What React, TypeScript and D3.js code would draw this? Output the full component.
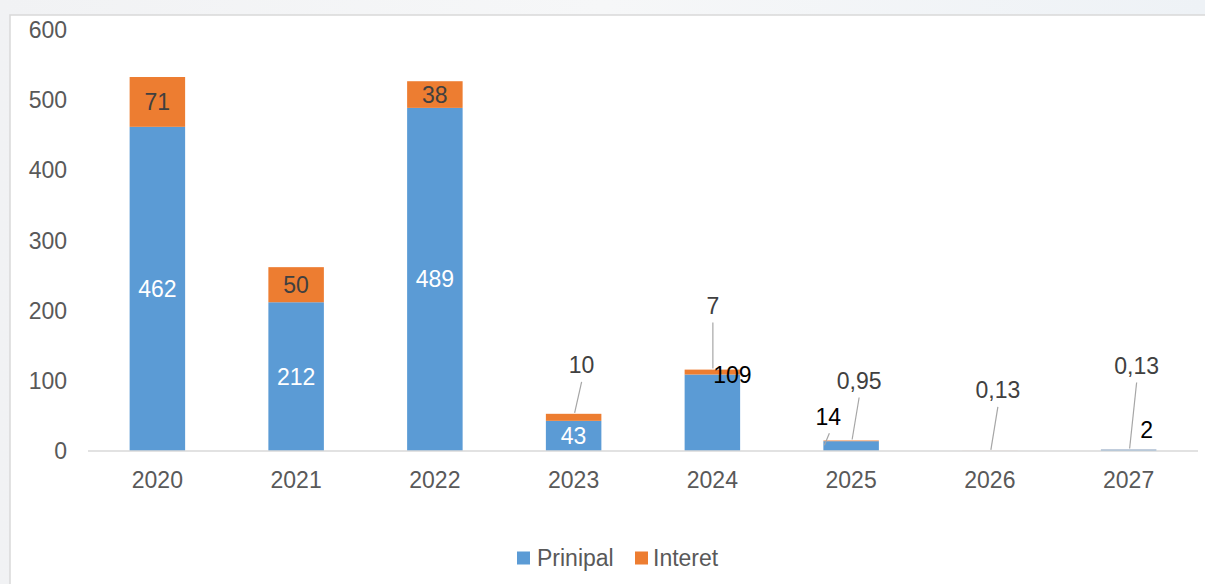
import React from "react";
import * as d3 from "d3";

const years = ["2020", "2021", "2022", "2023", "2024", "2025", "2026", "2027"];
const principal = [462, 212, 489, 43, 109, 14, 0, 2];
const interest = [71, 50, 38, 10, 7, 0.95, 0.13, 0.13];
const principalLabels = ["462", "212", "489", "43", "109", "14", "", "2"];
const interestLabels = ["71", "50", "38", "10", "7", "0,95", "0,13", "0,13"];
const yTicks = [0, 100, 200, 300, 400, 500, 600];
const seriesNames = ["Prinipal", "Interet"];

// label placement styles: "in" = inside segment, "callout" = with leader line, "side" = beside top
const principalPlacement = ["in", "in", "in", "in", "side", "leftcall", "none", "above"];
const interestPlacement = ["in", "in", "in", "callout", "callout", "callout", "callout", "callout"];
const interestCalloutRise = [0, 0, 0, 49, 64, 60, 61, 84];

const W = 1205;
const H = 584;
const BLUE = "#5B9BD5";
const ORANGE = "#ED7D31";
const FONT = "'Liberation Sans', Arial, sans-serif";
const FS = 23;

export default function App() {
  const x = d3.scaleBand<string>().domain(years).range([88, 1198]).paddingInner(0.6).paddingOuter(0.3);
  const y = d3.scaleLinear().domain([0, 600]).range([451, 30]);
  const bw = x.bandwidth();

  return (
    <svg width={W} height={H} style={{ position: "absolute", left: 0, top: 0 }} fontFamily={FONT}>
      <defs>
        <linearGradient id="bg" x1="0" x2="1" y1="0" y2="0">
          <stop offset="0" stopColor="#f1f2f4" />
          <stop offset="0.5" stopColor="#f6f7f8" />
          <stop offset="1" stopColor="#eef2f6" />
        </linearGradient>
      </defs>
      <rect x={0} y={0} width={W} height={H} fill="url(#bg)" />
      <rect x={10} y={15} width={W + 10} height={H + 10} fill="#ffffff" stroke="#d9d9d9" strokeWidth={1.5} />

      {yTicks.map((t) => (
        <text key={t} x={67} y={y(t)} textAnchor="end" dominantBaseline="central" fontSize={FS} fill="#595959">
          {t}
        </text>
      ))}

      {years.map((yr) => (
        <text key={"x" + yr} x={x(yr)! + bw / 2} y={480} textAnchor="middle" dominantBaseline="central" fontSize={FS} fill="#595959">
          {yr}
        </text>
      ))}

      {years.map((yr, i) => {
        const p0 = y(0);
        const p1 = y(principal[i]);
        const i1 = y(principal[i] + interest[i]);
        return (
          <g key={yr}>
            {principal[i] > 0 && <rect x={x(yr)} y={p1} width={bw} height={p0 - p1} fill={BLUE} />}
            <rect x={x(yr)} y={i1} width={bw} height={p1 - i1} fill={ORANGE} />
          </g>
        );
      })}

      <line x1={88} x2={1198} y1={y(0)} y2={y(0)} stroke="#d9d9d9" strokeWidth={1.5} />

      {years.map((yr, i) => {
        const cx = x(yr)! + bw / 2;
        const p1 = y(principal[i]);
        const i1 = y(principal[i] + interest[i]);
        const els: React.ReactNode[] = [];
        const pp = principalPlacement[i];
        if (pp === "in") {
          els.push(
            <text key="p" x={cx} y={(p1 + y(0)) / 2} textAnchor="middle" dominantBaseline="central" fontSize={FS} fill="#ffffff">
              {principalLabels[i]}
            </text>
          );
        } else if (pp === "side") {
          els.push(
            <text key="p" x={cx + 20} y={p1} textAnchor="middle" dominantBaseline="central" fontSize={FS} fill="#000000">
              {principalLabels[i]}
            </text>
          );
        } else if (pp === "above") {
          els.push(
            <text key="p" x={cx + 18} y={p1 - 20} textAnchor="middle" dominantBaseline="central" fontSize={FS} fill="#000000">
              {principalLabels[i]}
            </text>
          );
        } else if (pp === "leftcall") {
          els.push(
            <line key="pl" x1={x(yr)! + 1} y1={p1 + 4} x2={x(yr)! + 6} y2={p1 - 8} stroke="#a6a6a6" strokeWidth={1.2} />,
            <text key="p" x={x(yr)! + 5} y={p1 - 24} textAnchor="middle" dominantBaseline="central" fontSize={FS} fill="#000000">
              {principalLabels[i]}
            </text>
          );
        }
        const ip = interestPlacement[i];
        if (ip === "in") {
          els.push(
            <text key="i" x={cx} y={(p1 + i1) / 2} textAnchor="middle" dominantBaseline="central" fontSize={FS} fill="#404040">
              {interestLabels[i]}
            </text>
          );
        } else if (ip === "callout") {
          const rise = interestCalloutRise[i];
          const dx = i === 4 ? 0.5 : 8;
          const ly = i1 - rise;
          els.push(
            <line key="il" x1={cx + (i === 4 ? 0.5 : 1)} y1={i1 - 1} x2={cx + dx} y2={ly + 17} stroke="#a6a6a6" strokeWidth={1.2} />,
            <text key="i" x={cx + dx} y={ly} textAnchor="middle" dominantBaseline="central" fontSize={FS} fill="#404040">
              {interestLabels[i]}
            </text>
          );
        }
        return <g key={"l" + yr}>{els}</g>;
      })}

      <g>
        <rect x={517} y={551.5} width={13} height={13} fill={BLUE} />
        <text x={537} y={558} dominantBaseline="central" fontSize={FS} fill="#595959">{seriesNames[0]}</text>
        <rect x={635} y={551.5} width={13} height={13} fill={ORANGE} />
        <text x={653} y={558} dominantBaseline="central" fontSize={FS} fill="#595959">{seriesNames[1]}</text>
      </g>
    </svg>
  );
}
